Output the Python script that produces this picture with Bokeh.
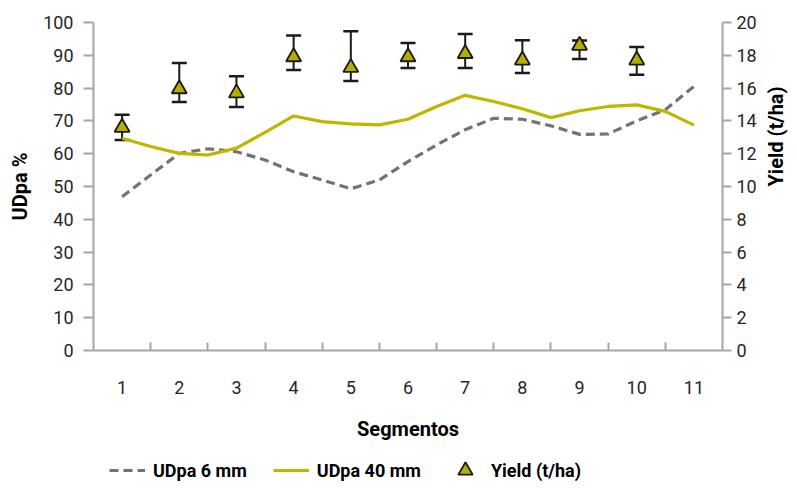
import math
from bokeh.plotting import figure
from bokeh.layouts import column
from bokeh.models import (ColumnDataSource, Range1d, LinearAxis, FixedTicker,
                          Whisker, TeeHead, Legend, LegendItem)
from bokeh.embed import file_html
from bokeh.resources import INLINE

# ---- data ----
segments = list(range(1, 12))
tick_labels = [str(s) for s in segments]

curve_pos = [1, 1.5, 2, 2.5, 3, 3.5, 4, 4.5, 5, 5.5, 6, 6.5, 7, 7.5, 8, 8.5,
             9, 9.5, 10, 10.5, 11]
udpa_6mm = [46.9, 53.5, 60.1, 61.5, 60.6, 58.1, 54.5, 52.0, 49.3, 52.0, 57.6,
            62.7, 67.3, 70.8, 70.5, 68.5, 65.9, 66.0, 70.0, 73.4, 80.5]
udpa_40mm = [64.7, 62.2, 60.1, 59.6, 61.7, 66.5, 71.5, 69.8, 69.1, 68.8, 70.5,
             74.4, 77.8, 75.9, 73.7, 71.0, 73.1, 74.4, 74.9, 72.9, 68.7]

yield_seg = [1, 2, 3, 4, 5, 6, 7, 8, 9, 10]
yield_val = [13.6, 15.95, 15.7, 17.9, 17.25, 17.9, 18.1, 17.7, 18.6, 17.7]
yield_upper = [14.37, 17.53, 16.72, 19.2, 19.47, 18.75, 19.3, 18.92, 18.9, 18.51]
yield_lower = [12.84, 15.15, 14.84, 17.1, 16.43, 17.23, 17.23, 16.92, 17.78, 16.82]

series_names = ["UDpa 6 mm", "UDpa 40 mm", "Yield (t/ha)"]

FONT = "Roboto"
AXIS_GRAY = "#a6a6a6"
TXT = "#262626"
OLIVE = "#bfb600"
GRAY = "#737373"
TRI_FILL = "#b5ad00"
DARK = "#1a1a1a"

p = figure(frame_width=629, frame_height=328, output_backend="svg",
           toolbar_location=None, x_range=Range1d(0.5, 11.5),
           y_range=Range1d(0, 100),
           min_border_left=93, min_border_top=22, min_border_right=75,
           min_border_bottom=90)
p.extra_y_ranges = {"yield": Range1d(0, 20)}
p.outline_line_color = None
p.xgrid.visible = False
p.ygrid.visible = False

# x axis
xa = p.xaxis[0]
xa.ticker = FixedTicker(ticks=segments,
                        minor_ticks=[s + 0.5 for s in segments[:-1]])
xa.major_label_overrides = {s: l for s, l in zip(segments, tick_labels)}
xa.major_tick_in = 0
xa.major_tick_out = 0
xa.minor_tick_in = 8
xa.minor_tick_out = 0
xa.minor_tick_line_color = AXIS_GRAY
xa.minor_tick_line_width = 2
xa.axis_line_color = AXIS_GRAY
xa.axis_line_width = 2
xa.major_label_standoff = 30
xa.major_label_text_font = FONT
xa.major_label_text_font_size = "18px"
xa.major_label_text_color = TXT
xa.axis_label = "Segmentos"
xa.axis_label_text_font = FONT
xa.axis_label_text_font_style = "bold"
xa.axis_label_text_font_size = "20px"
xa.axis_label_text_color = "black"
xa.axis_label_standoff = 20

# left axis
ya = p.yaxis[0]
ya.ticker = FixedTicker(ticks=list(range(0, 101, 10)))
ya.minor_tick_line_color = None
ya.major_tick_in = 0
ya.major_tick_out = 10
ya.major_tick_line_color = AXIS_GRAY
ya.major_tick_line_width = 2
ya.axis_line_color = AXIS_GRAY
ya.axis_line_width = 2
ya.major_label_standoff = 10
ya.major_label_text_font = FONT
ya.major_label_text_font_size = "18px"
ya.major_label_text_color = TXT
ya.axis_label = "UDpa %"
ya.axis_label_text_font = FONT
ya.axis_label_text_font_style = "bold"
ya.axis_label_text_font_size = "20px"
ya.axis_label_text_color = "black"
ya.axis_label_standoff = 8

# right axis
ra = LinearAxis(y_range_name="yield", ticker=FixedTicker(ticks=list(range(0, 21, 2))))
ra.minor_tick_line_color = None
ra.major_tick_in = 0
ra.major_tick_out = 9
ra.major_tick_line_color = AXIS_GRAY
ra.major_tick_line_width = 2
ra.axis_line_color = AXIS_GRAY
ra.axis_line_width = 2
ra.major_label_standoff = 5
ra.major_label_text_font = FONT
ra.major_label_text_font_size = "18px"
ra.major_label_text_color = TXT
ra.axis_label = "Yield (t/ha)"
ra.axis_label_text_font = FONT
ra.axis_label_text_font_style = "bold"
ra.axis_label_text_font_size = "20px"
ra.axis_label_text_color = "black"
ra.axis_label_standoff = 16
if "axis_label_orientation" in ra.properties():
    ra.axis_label_orientation = math.pi / 2
p.add_layout(ra, "right")

# lines
curve_src = ColumnDataSource(dict(x=curve_pos, d6=udpa_6mm, d40=udpa_40mm))
p.line("x", "d6", source=curve_src, line_color=GRAY, line_width=3.2,
       line_dash="9 5", line_join="round")
p.line("x", "d40", source=curve_src, line_color=OLIVE, line_width=3.2,
       line_join="round")

# yield with error bars
ysrc = ColumnDataSource(dict(x=yield_seg, y=yield_val, upper=yield_upper,
                             lower=yield_lower))
wh = Whisker(base="x", upper="upper", lower="lower", source=ysrc,
             y_range_name="yield", line_color=DARK, line_width=2,
             level="underlay",
             upper_head=TeeHead(size=15, line_width=2.5, line_color=DARK),
             lower_head=TeeHead(size=15, line_width=2.5, line_color=DARK))
p.add_layout(wh)
p.scatter("x", "y", source=ysrc, y_range_name="yield", marker="triangle",
          size=15, fill_color=TRI_FILL, line_color=DARK, line_width=1.8)

# ---- legend strip (separate figure so the legend is not clipped) ----
lg = figure(width=797, height=49, output_backend="svg", toolbar_location=None,
            x_axis_type=None, y_axis_type=None, min_border=0,
            x_range=Range1d(0, 1), y_range=Range1d(0, 1))
lg.outline_line_color = None
lg.xgrid.visible = False
lg.ygrid.visible = False
nan = float("nan")
key_src = ColumnDataSource(dict(x=[nan], y=[nan]))  # legend keys only, no marks
k6 = lg.line("x", "y", source=key_src, line_color=GRAY, line_width=3.2,
             line_dash="9 5")
k40 = lg.line("x", "y", source=key_src, line_color=OLIVE, line_width=3.2)
ky = lg.scatter("x", "y", source=key_src, marker="triangle", size=15,
                fill_color=TRI_FILL, line_color=DARK, line_width=1.8)

legend = Legend(items=[LegendItem(label=series_names[0], renderers=[k6]),
                       LegendItem(label=series_names[1], renderers=[k40]),
                       LegendItem(label=series_names[2], renderers=[ky])],
                orientation="horizontal", location=(16, 4),
                label_text_font=FONT, label_text_font_style="bold",
                label_text_font_size="18px", label_text_color="black",
                glyph_width=36, glyph_height=36, label_standoff=8,
                spacing=26, padding=0, margin=0,
                border_line_color=None, background_fill_alpha=0)
lg.add_layout(legend, "center")

open("out.html", "w").write(file_html(column(p, lg), INLINE))
